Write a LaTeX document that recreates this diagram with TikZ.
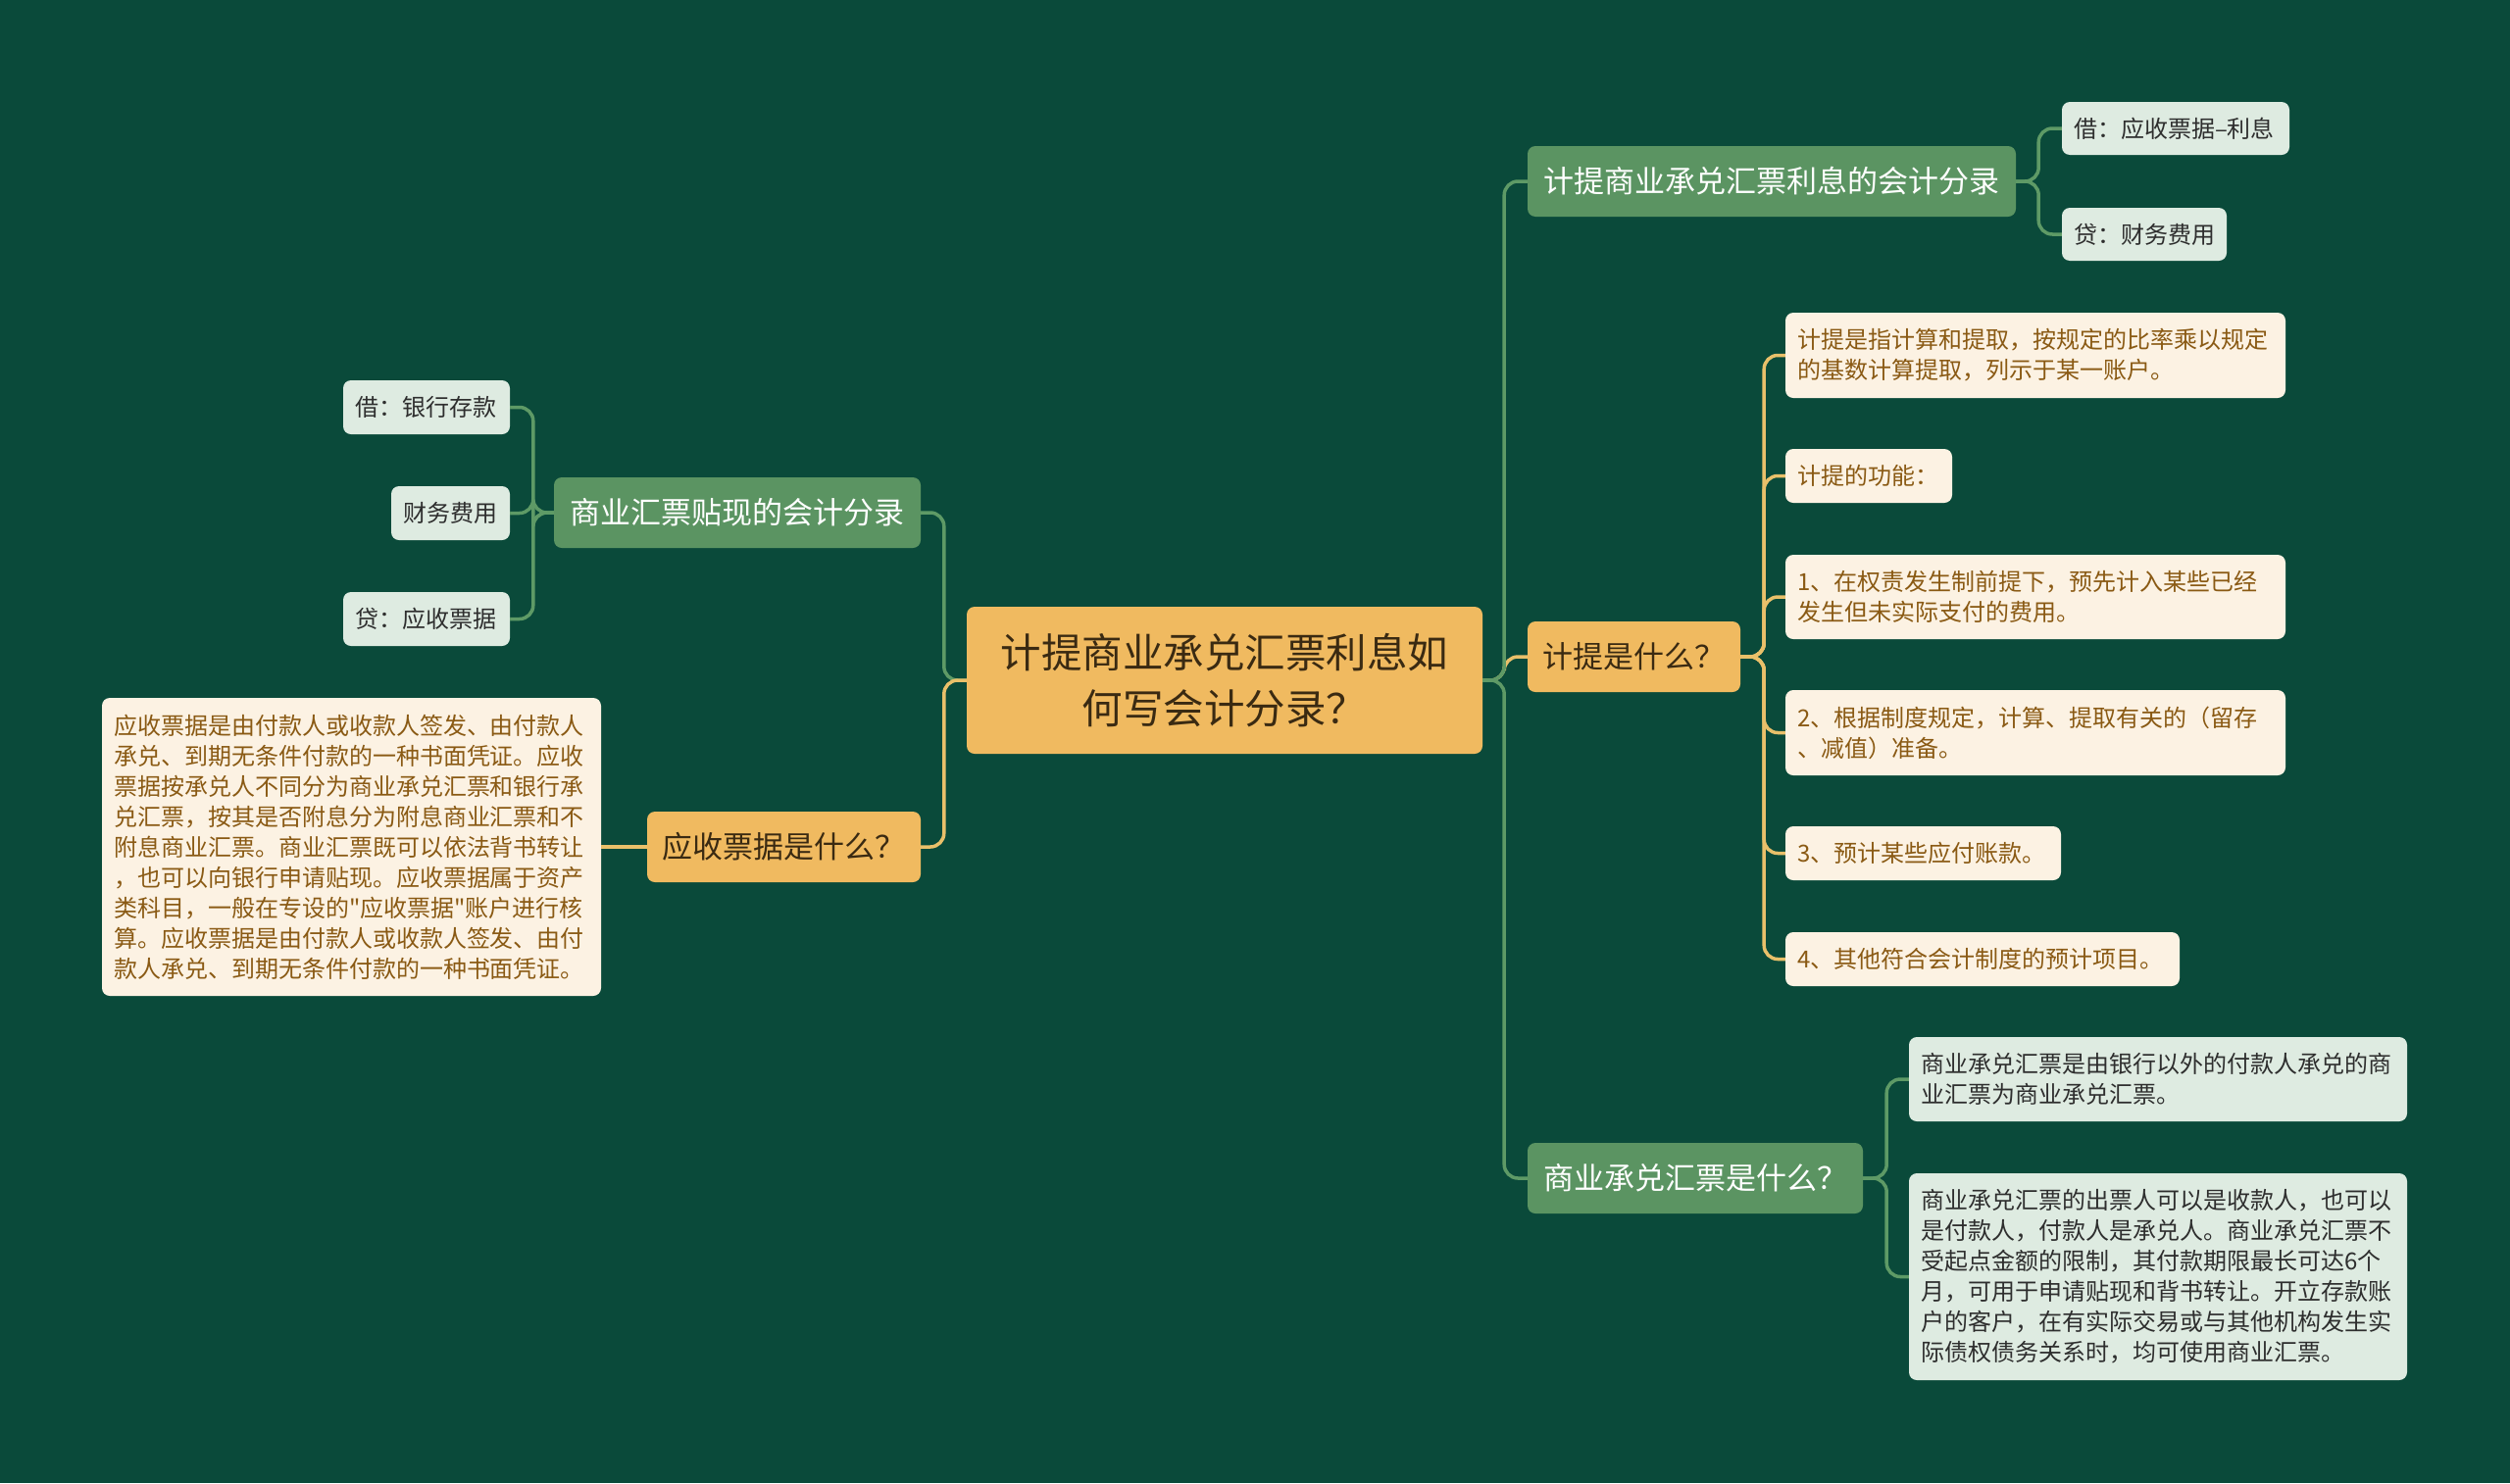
\documentclass[tikz,border=0pt]{standalone}
\usepackage{fontspec}
\newfontfamily\cjk{Noto Sans CJK SC}
\definecolor{bg}{HTML}{0A4A3A}
\definecolor{gnode}{HTML}{5B9462}
\definecolor{onode}{HTML}{F0BA60}
\definecolor{lleaf}{HTML}{DEEBE1}
\definecolor{cleaf}{HTML}{FCF2E3}
\definecolor{ctext}{HTML}{8A5A14}
\definecolor{dtext}{HTML}{2E2E2E}
\definecolor{otext}{HTML}{3A2A12}
\definecolor{gline}{HTML}{5E9A66}
\definecolor{oline}{HTML}{E9C06A}
\newcommand\mybox[7]{%
  \pgfmathsetmacro\bw{#5-#3}\pgfmathsetmacro\bh{#6-#4}\pgfmathsetmacro\tw{#5-#3-24}%
  \node[#2, minimum width=\bw pt, minimum height=\bh pt] (#1) at ({(#3+#5)/2},{(#4+#6)/2}) {#7};}
\tikzset{
  base/.style={rounded corners=8pt, font=\cjk, inner ysep=4pt},
  central/.style={base, fill=onode, text=otext, align=center, font=\cjk\fontsize{41.5}{57}\selectfont},
  gmid/.style={base, fill=gnode, text=white, inner xsep=4pt, font=\cjk\fontsize{31}{38}\selectfont},
  omid/.style={base, fill=onode, text=otext, inner xsep=4pt, font=\cjk\fontsize{31}{38}\selectfont},
  lleafbox/.style={base, fill=lleaf, text=dtext, inner xsep=12pt, text width=\tw pt, align=left, font=\cjk\fontsize{24}{31}\selectfont},
  cleafbox/.style={base, fill=cleaf, text=ctext, inner xsep=12pt, text width=\tw pt, align=left, font=\cjk\fontsize{24}{31}\selectfont},
  gconn/.style={draw=gline, line width=3.5pt, rounded corners=14pt},
  oconn/.style={draw=oline, line width=3.5pt, rounded corners=14pt}
}
\begin{document}
\begin{tikzpicture}[x=1pt,y=-1pt]
\fill[bg] (0,0) rectangle (2560,1513);
\useasboundingbox (0,0) rectangle (2560,1513);
% nodes
\mybox{ctr}{central}{986}{619}{1512}{769}{计提商业承兑汇票利息如\\何写会计分录？}
\mybox{g1}{gmid}{1558}{149}{2056}{221}{计提商业承兑汇票利息的会计分录}
\mybox{l1a}{lleafbox}{2103}{104}{2335}{158}{借：应收票据–利息}
\mybox{l1b}{lleafbox}{2103}{212}{2271}{266}{贷：财务费用}
\mybox{o2}{omid}{1558}{634}{1775}{706}{计提是什么？}
\mybox{c0}{cleafbox}{1821}{319}{2331}{406}{计提是指计算和提取，按规定的比率乘以规定\\的基数计算提取，列示于某一账户。}
\mybox{c1}{cleafbox}{1821}{458}{1991}{513}{计提的功能：}
\mybox{c2}{cleafbox}{1821}{566}{2331}{652}{1、在权责发生制前提下，预先计入某些已经\\发生但未实际支付的费用。}
\mybox{c3}{cleafbox}{1821}{704}{2331}{791}{2、根据制度规定，计算、提取有关的（留存\\、减值）准备。}
\mybox{c4}{cleafbox}{1821}{843}{2102}{898}{3、预计某些应付账款。}
\mybox{c5}{cleafbox}{1821}{951}{2223}{1006}{4、其他符合会计制度的预计项目。}
\mybox{g3}{gmid}{1558}{1166}{1900}{1238}{商业承兑汇票是什么？}
\mybox{l3a}{lleafbox}{1947}{1058}{2455}{1144}{商业承兑汇票是由银行以外的付款人承兑的商\\业汇票为商业承兑汇票。}
\mybox{l3b}{lleafbox}{1947}{1197}{2455}{1408}{商业承兑汇票的出票人可以是收款人，也可以\\是付款人，付款人是承兑人。商业承兑汇票不\\受起点金额的限制，其付款期限最长可达6个\\月，可用于申请贴现和背书转让。开立存款账\\户的客户，在有实际交易或与其他机构发生实\\际债权债务关系时，均可使用商业汇票。}
\mybox{g4}{gmid}{565}{487}{939}{559}{商业汇票贴现的会计分录}
\mybox{l4a}{lleafbox}{350}{388}{520}{443}{借：银行存款}
\mybox{l4b}{lleafbox}{399}{496}{520}{551}{财务费用}
\mybox{l4c}{lleafbox}{350}{604}{520}{659}{贷：应收票据}
\mybox{o5}{omid}{660}{828}{939}{900}{应收票据是什么？}
\mybox{c6}{cleafbox}{104}{712}{613}{1016}{应收票据是由付款人或收款人签发、由付款人\\承兑、到期无条件付款的一种书面凭证。应收\\票据按承兑人不同分为商业承兑汇票和银行承\\兑汇票，按其是否附息分为附息商业汇票和不\\附息商业汇票。商业汇票既可以依法背书转让\\，也可以向银行申请贴现。应收票据属于资产\\类科目，一般在专设的"应收票据"账户进行核\\算。应收票据是由付款人或收款人签发、由付\\款人承兑、到期无条件付款的一种书面凭证。}
% connectors
\path[oconn] (ctr.east) -- ++(22,0) |- (o2.west);
\path[gconn] (ctr.east) -- ++(22,0) |- (g1.west);
\path[gconn] (ctr.east) -- ++(22,0) |- (g3.west);
\path[gconn] (g1.east) -- ++(23,0) |- (l1a.west);
\path[gconn] (g1.east) -- ++(23,0) |- (l1b.west);
\foreach \c in {c0,c1,c2,c3,c4,c5} {\path[oconn] (o2.east) -- ++(24,0) |- (\c.west);}
\path[gconn] (g3.east) -- ++(24,0) |- (l3a.west);
\path[gconn] (g3.east) -- ++(24,0) |- (l3b.west);
\path[gconn] (ctr.west) -- ++(-23,0) |- (g4.east);
\path[oconn] (ctr.west) -- ++(-23,0) |- (o5.east);
\foreach \c in {l4a,l4b,l4c} {\path[gconn] (g4.west) -- ++(-21,0) |- (\c.east);}
\path[oconn] (o5.west) -- (c6.east);
\end{tikzpicture}
\end{document}
